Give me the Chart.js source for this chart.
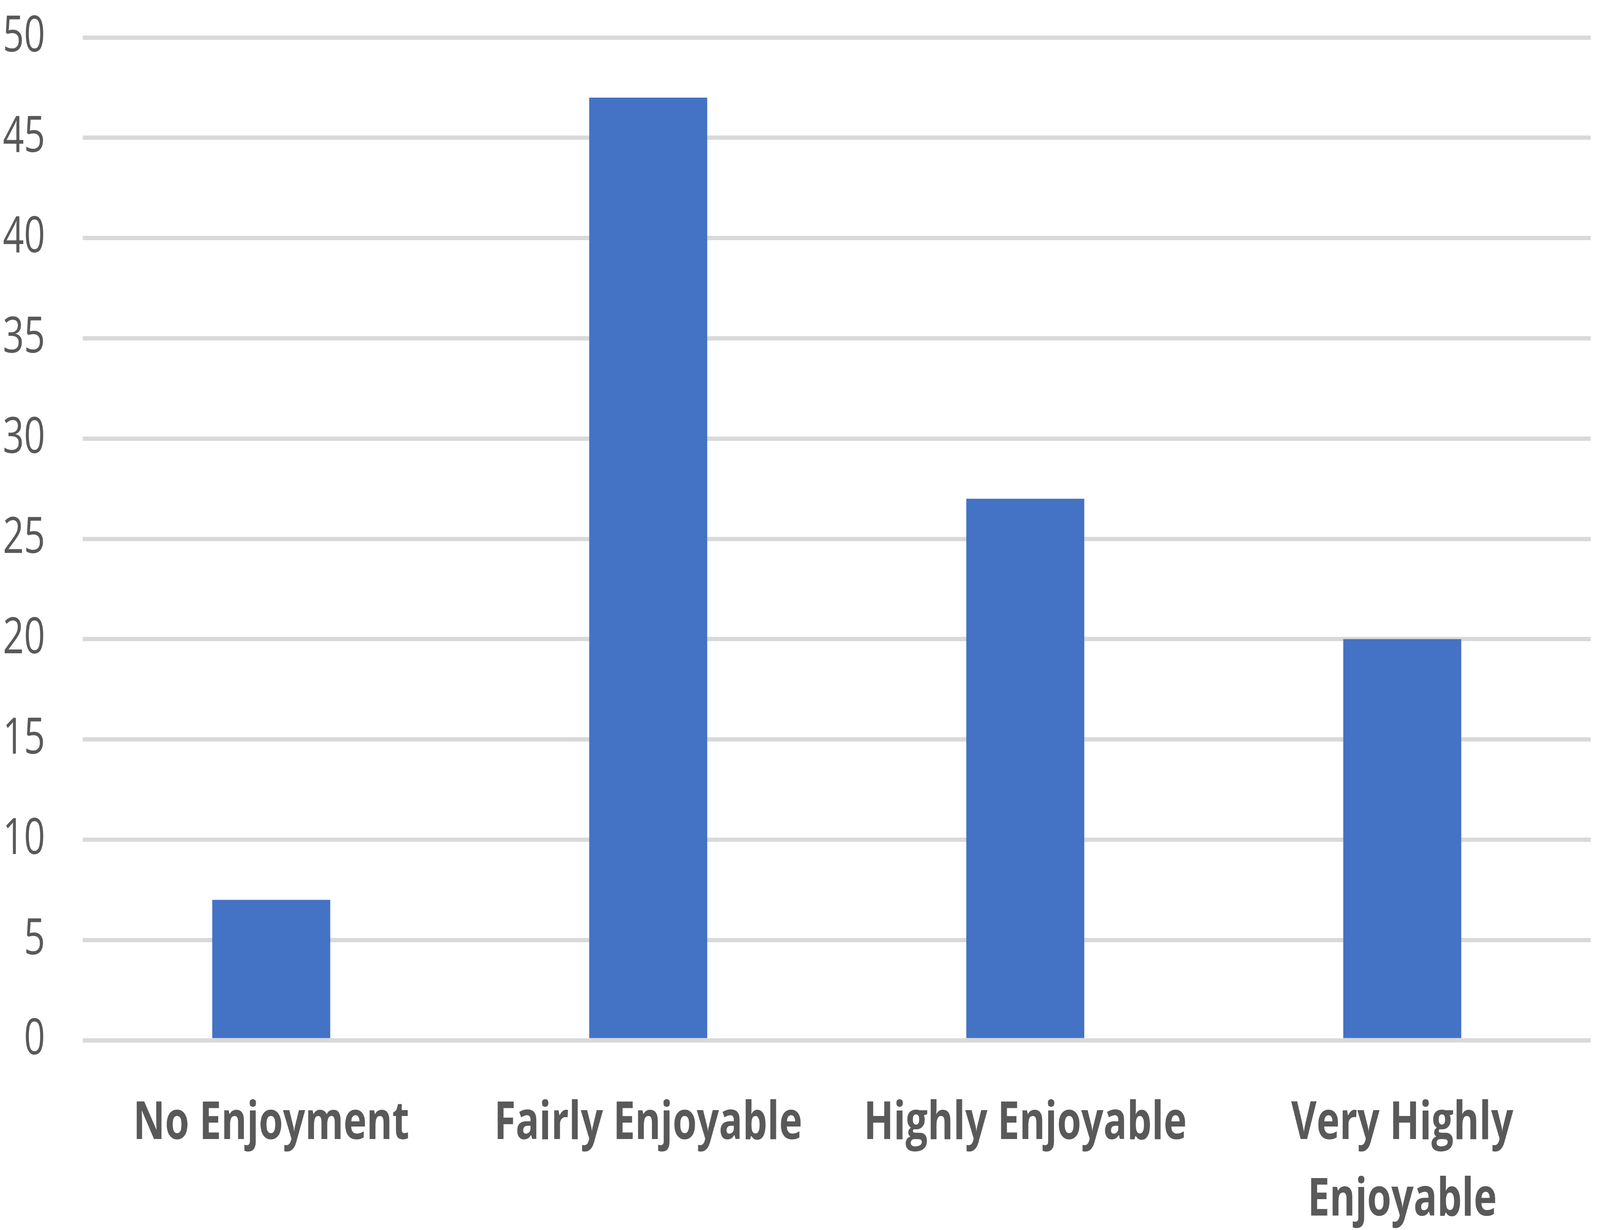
<!DOCTYPE html>
<html>
<head>
<meta charset="utf-8">
<script src="https://cdn.jsdelivr.net/npm/chart.js@4"></script>
<style>
  html, body { margin: 0; padding: 0; background: #ffffff; overflow: hidden; }
  canvas { display: block; }
</style>
</head>
<body>
<canvas id="chart" width="5532" height="3150"></canvas>
<script>
// categories and values
const categories = ["No Enjoyment", "Fairly Enjoyable", "Highly Enjoyable", ["Very Highly", "Enjoyable"]];
const counts = [7, 47, 27, 20];
const yTicks = [0, 5, 10, 15, 20, 25, 30, 35, 40, 45, 50];

const textColor = "#595959";
const gridColor = "#d9d9d9";

const canvas = document.getElementById("chart");
const chart = new Chart(canvas.getContext("2d"), {
  type: "bar",
  data: {
    labels: categories,
    datasets: [
      {
        label: "Count",
        data: counts,
        backgroundColor: "#4472c4",
        borderWidth: 0,
        categoryPercentage: 1,
        barPercentage: 0.313,
      },
    ],
  },
  options: {
    responsive: false,
    animation: false,
    devicePixelRatio: 1,
    layout: { padding: { top: 96, right: 32, left: 0, bottom: 0 } },
    plugins: {
      legend: { display: false },
      tooltip: { enabled: false },
    },
    scales: {
      x: {
        grid: { display: false, drawTicks: false },
        border: { display: false },
        ticks: {
          color: textColor,
          padding: 117,
          maxRotation: 0,
          autoSkip: false,
          font: { family: "'Open Sans', sans-serif", size: 135, weight: "bold", lineHeight: 1.45 },
        },
        afterFit: (axis) => {
          axis.height = 486;
          axis.paddingLeft = 0;
          axis.paddingRight = 0;
        },
      },
      y: {
        min: 0,
        max: 50,
        afterBuildTicks: (axis) => {
          axis.ticks = yTicks.map((v) => ({ value: v }));
        },
        grid: { color: gridColor, lineWidth: 11, drawTicks: false },
        border: { display: false },
        ticks: {
          color: textColor,
          padding: 130,
          font: { family: "'Open Sans', sans-serif", size: 128 },
        },
        afterFit: (axis) => {
          axis.width = 286;
          axis.paddingTop = 0;
          axis.paddingBottom = 0;
        },
      },
    },
  },
});

// the window is smaller than the picture, so the drawn 5532x3150 bitmap is fitted to it
canvas.style.width = "100vw";
canvas.style.height = "100vh";
</script>
</body>
</html>
